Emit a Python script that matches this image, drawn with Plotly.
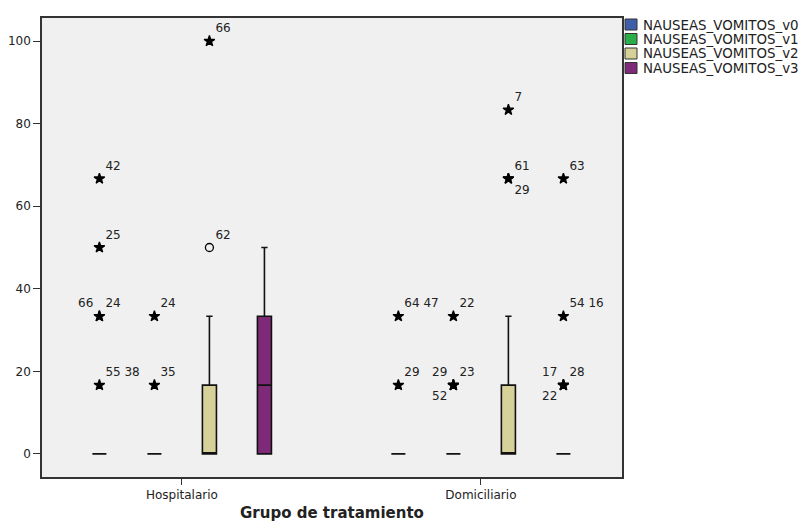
import plotly.graph_objects as go

# Treatment groups (x categories) and the four nausea/vomiting measurements
groups = ["Hospitalario", "Domiciliario"]
series = ["NAUSEAS_VOMITOS_v0", "NAUSEAS_VOMITOS_v1", "NAUSEAS_VOMITOS_v2", "NAUSEAS_VOMITOS_v3"]
colors = ["#3E5EAA", "#2BAE4A", "#D6D198", "#7E2A78"]
y_ticks = [0, 20, 40, 60, 80, 100]

# Box statistics per series, one value per group (Hospitalario, Domiciliario)
q1 = [[0, 0], [0, 0], [0, 0], [0, 0]]
median = [[0, 0], [0, 0], [0, 0], [16.67, 0]]
q3 = [[0, 0], [0, 0], [16.67, 16.67], [33.33, 0]]
lower = [[0, 0], [0, 0], [0, 0], [0, 0]]
upper = [[0, 0], [0, 0], [33.33, 33.33], [50, 0]]

# Outlying cases: group, value, case number(s), label side,
# symbol ("star" = extreme, "circle-open" = outlier)
out_group = [
    ["Hospitalario"] * 5 + ["Domiciliario"] * 2,
    ["Hospitalario"] * 2 + ["Domiciliario"] * 4,
    ["Hospitalario"] * 2 + ["Domiciliario"] * 3,
    ["Domiciliario"] * 5,
]
out_value = [
    [66.67, 50, 33.33, 33.33, 16.67, 33.33, 16.67],
    [33.33, 16.67, 33.33, 16.67, 16.67, 16.67],
    [100, 50, 83.33, 66.67, 66.67],
    [66.67, 33.33, 16.67, 16.67, 16.67],
]
out_case = [
    ["42", "25", "66", "24", "55 38", "64 47", "29"],
    ["24", "35", "22", "29", "23", "52"],
    ["66", "62", "7", "61", "29"],
    ["63", "54 16", "17", "28", "22"],
]
out_side = [
    ["top right", "top right", "top left", "top right", "top right", "top right", "top right"],
    ["top right", "top right", "top right", "top left", "top right", "bottom left"],
    ["top right", "top right", "top right", "top right", "bottom right"],
    ["top right", "top right", "top left", "top right", "bottom left"],
]
out_symbol = [
    ["star"] * 7,
    ["star"] * 6,
    ["star", "circle-open", "star", "star", "star"],
    ["star"] * 5,
]

FONT = "DejaVu Sans, Verdana, sans-serif"
INK = "#222222"

fig = go.Figure()

for i, name in enumerate(series):
    fig.add_trace(go.Box(
        name=name,
        x=groups,
        q1=q1[i], median=median[i], q3=q3[i],
        lowerfence=lower[i], upperfence=upper[i],
        fillcolor=colors[i],
        line=dict(color="#111111", width=1.6),
        whiskerwidth=0.45,
        boxpoints=False,
        showlegend=False,
        hoverinfo="skip",
    ))

for i, name in enumerate(series):
    fig.add_trace(go.Scatter(
        x=out_group[i],
        y=out_value[i],
        mode="markers+text",
        text=out_case[i],
        textposition=out_side[i],
        textfont=dict(family=FONT, size=12, color=INK),
        marker=dict(symbol=out_symbol[i], size=8, color="#000000", opacity=1,
                    line=dict(color="#000000", width=1.3)),
        showlegend=False,
        hoverinfo="skip",
        cliponaxis=False,
    ))

# Legend drawn beside the plot: colour swatch + series name per row
plot_l, plot_r, plot_t, plot_b = 42, 622, 18, 477
fig_w, fig_h = 807, 522
pw, ph = plot_r - plot_l, plot_b - plot_t
row0, row_step = 24.5, 14.5
sw_x0, sw_x1, sw_half = 625, 637, 5.5
txt_x = 642
for i, name in enumerate(series):
    cy = row0 + i * row_step
    fig.add_shape(
        type="rect", xref="paper", yref="paper",
        x0=(sw_x0 - plot_l) / pw, x1=(sw_x1 - plot_l) / pw,
        y0=(plot_b - cy - sw_half) / ph, y1=(plot_b - cy + sw_half) / ph,
        fillcolor=colors[i], line=dict(color="#333333", width=1),
    )
    fig.add_annotation(
        xref="paper", yref="paper",
        x=(txt_x - plot_l) / pw, y=(plot_b - cy) / ph,
        xanchor="left", yanchor="middle", showarrow=False,
        height=14, borderpad=0, valign="bottom", yshift=-1,
        text=name, font=dict(family=FONT, size=13.4, color=INK),
    )

axis_line = dict(showline=True, mirror=True, linecolor="#333333", linewidth=1.6,
                 ticks="outside", tickcolor="#333333", showgrid=False,
                 zeroline=False, automargin=False)

fig.update_layout(
    width=fig_w, height=fig_h,
    margin=dict(l=plot_l, r=fig_w - plot_r, t=plot_t, b=fig_h - plot_b),
    paper_bgcolor="white",
    plot_bgcolor="#F0F0F0",
    showlegend=False,
    boxmode="group",
    boxgap=0.264,
    boxgroupgap=0.745,
    scattermode="group",
    scattergap=0.264,
    font=dict(family=FONT, size=12, color=INK),
    xaxis=dict(
        type="category",
        range=[-0.468, 1.472],
        title=dict(text="<b>Grupo de tratamiento</b>", font=dict(family=FONT, size=15, color=INK),
                   standoff=19),
        tickfont=dict(family=FONT, size=12, color=INK),
        ticklen=6,
        ticklabelstandoff=0,
        **axis_line,
    ),
    yaxis=dict(
        range=[-5.6, 105.6],
        tickvals=y_ticks,
        tickfont=dict(family=FONT, size=12, color=INK),
        ticklen=7,
        ticklabelstandoff=0,
        **axis_line,
    ),
)

fig.write_html("out.html")
